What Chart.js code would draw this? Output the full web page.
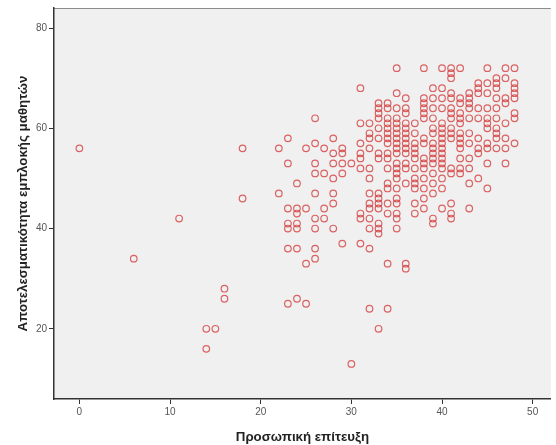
<!DOCTYPE html>
<html>
<head>
<meta charset="utf-8">
<script src="https://cdn.jsdelivr.net/npm/chart.js@4"></script>
<style>
  body { margin: 0; background: #fff; }
  #wrap { width: 556px; height: 445px; }
</style>
</head>
<body>
<div id="wrap"><canvas id="scatter"></canvas></div>
<script>
// x values (Προσωπική επίτευξη) and the y values observed at each one
const xValues = [0, 6, 11, 14, 15, 16, 18, 22, 23, 24, 25, 26, 27, 28, 29, 30, 31, 32, 33, 34, 35, 36, 37, 38, 39, 40, 41, 42, 43, 44, 45, 46, 47, 48];
const yByX = [
    [56],
    [34],
    [42],
    [20, 16],
    [20],
    [28, 26],
    [56, 46],
    [56, 47],
    [58, 53, 44, 41, 40, 36, 25],
    [49, 44, 43, 41, 40, 36, 26],
    [56, 44, 33, 25],
    [62, 57, 53, 51, 47, 42, 40, 36, 34],
    [56, 51, 44, 42],
    [58, 55, 53, 50, 47, 45, 40],
    [56, 55, 53, 51, 37],
    [53, 13],
    [68, 61, 57, 55, 54, 52, 43, 42, 37],
    [61, 59, 58, 56, 52, 50, 47, 45, 44, 42, 40, 36, 24],
    [65, 64, 63, 62, 60, 58, 55, 54, 47, 46, 45, 44, 41, 40, 39, 20],
    [65, 64, 62, 61, 60, 59, 58, 57, 55, 54, 52, 49, 48, 45, 43, 33, 24],
    [72, 67, 64, 62, 61, 60, 59, 58, 57, 56, 55, 53, 52, 51, 50, 48, 46, 45, 43, 42, 40],
    [66, 64, 63, 61, 60, 59, 58, 57, 56, 55, 53, 52, 49, 33, 32],
    [61, 59, 57, 56, 55, 54, 52, 50, 49, 48, 45, 43],
    [72, 66, 65, 64, 63, 62, 58, 57, 54, 53, 52, 50, 48, 46, 44],
    [68, 66, 64, 62, 60, 59, 57, 56, 55, 54, 53, 51, 49, 47, 42, 41],
    [72, 68, 66, 64, 61, 60, 59, 58, 57, 56, 55, 54, 53, 52, 50, 48, 44],
    [72, 71, 70, 67, 66, 64, 63, 62, 60, 59, 58, 52, 51, 45, 43, 42],
    [72, 66, 65, 63, 62, 61, 59, 58, 57, 56, 54, 52, 51],
    [67, 66, 65, 64, 62, 59, 57, 54, 52, 49, 44],
    [69, 68, 67, 64, 62, 58, 56, 55, 50],
    [72, 69, 67, 64, 62, 61, 60, 57, 56, 53, 48],
    [70, 69, 68, 66, 64, 62, 60, 59, 58, 56],
    [72, 70, 66, 65, 61, 58, 56, 53],
    [72, 69, 68, 67, 66, 63, 62, 57]
];
const xTicks = [0, 10, 20, 30, 40, 50];
const yTicks = [20, 40, 60, 80];
const xTitle = 'Προσωπική επίτευξη';
const yTitle = 'Αποτελεσματικότητα εμπλοκής μαθητών';

const points = [];
xValues.forEach((x, i) => {
    yByX[i].forEach(y => points.push({ x: x, y: y }));
});

// plot background + thin top frame line, like the SPSS output
const plotFrame = {
    id: 'plotFrame',
    beforeDraw(chart) {
        const a = chart.chartArea;
        const c = chart.ctx;
        c.save();
        c.fillStyle = '#f0f0f0';
        c.fillRect(a.left, a.top, a.right - a.left, a.bottom - a.top);
        c.strokeStyle = '#8c8c8c';
        c.lineWidth = 1;
        c.beginPath();
        c.moveTo(a.left, a.top + 0.5);
        c.lineTo(a.right, a.top + 0.5);
        c.stroke();
        c.restore();
    }
};

const ctx = document.getElementById('scatter').getContext('2d');
const chart = new Chart(ctx, {
    type: 'scatter',
    data: {
        datasets: [{
            data: points,
            pointStyle: 'circle',
            pointRadius: 3.3,
            pointBorderWidth: 1.2,
            pointBackgroundColor: 'rgba(0,0,0,0)',
            pointBorderColor: 'rgba(212,62,62,0.8)'
        }]
    },
    options: {
        responsive: true,
        maintainAspectRatio: false,
        animation: false,
        layout: { padding: { top: 8, right: 4, left: 0, bottom: 0 } },
        plugins: {
            legend: { display: false },
            tooltip: { enabled: false }
        },
        scales: {
            x: {
                type: 'linear',
                min: -2.8,
                max: 52,
                afterBuildTicks: s => { s.ticks = xTicks.map(v => ({ value: v })); },
                afterFit: s => { s.height = 46; },
                border: { display: true, color: '#333', width: 1.5 },
                grid: { drawOnChartArea: false, drawTicks: true, tickLength: 5, color: '#333' },
                ticks: { color: '#555', font: { family: 'Liberation Sans', size: 10 }, padding: 2 },
                title: {
                    display: true, text: xTitle, color: '#222',
                    font: { family: 'Liberation Sans', size: 13.3, weight: 'bold' },
                    padding: { top: 5, bottom: 0 }
                }
            },
            y: {
                type: 'linear',
                min: 6,
                max: 84,
                afterBuildTicks: s => { s.ticks = yTicks.map(v => ({ value: v })); },
                afterFit: s => { s.width = 54; },
                border: { display: true, color: '#333', width: 1.5 },
                grid: { drawOnChartArea: false, drawTicks: true, tickLength: 5, color: '#333' },
                ticks: { color: '#555', font: { family: 'Liberation Sans', size: 10 }, padding: 2 },
                title: {
                    display: true, text: yTitle, color: '#222',
                    font: { family: 'Liberation Sans', size: 13.3, weight: 'bold' },
                    padding: { top: 15, bottom: 0 }
                }
            }
        }
    },
    plugins: [plotFrame]
});
</script>
</body>
</html>
